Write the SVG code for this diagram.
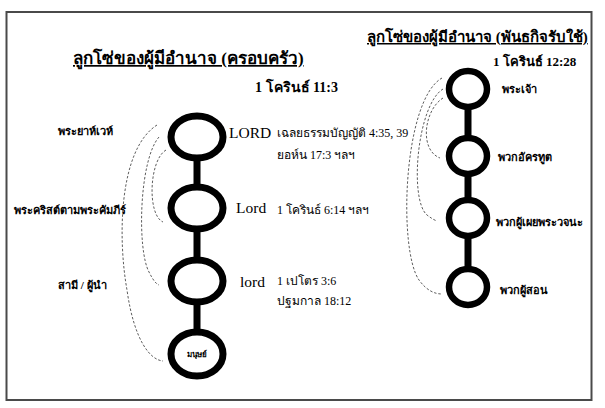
<svg xmlns="http://www.w3.org/2000/svg" width="605" height="408" viewBox="0 0 605 408">
<style>
.ring{fill:#fff;stroke:#000;stroke-width:7}
.ringS{fill:#fff;stroke:#000;stroke-width:6.5}
.link{stroke:#000;stroke-width:7}
.dash{fill:none;stroke:#333;stroke-width:0.8;stroke-dasharray:2.5 1.8}
.t{font-family:"Liberation Serif","Noto Sans",serif;fill:#000}
.b{font-weight:bold}
.title{font-size:17px;font-weight:bold;text-decoration:underline}
.title2{font-size:15px;font-weight:bold;text-decoration:underline}
.ref{font-size:12px}
.lab{font-size:11px;font-weight:bold}
.big{font-size:15.5px}
</style>
<rect x="6.5" y="12" width="585" height="388" fill="#fff" stroke="#4a4a4a" stroke-width="2"/>
<g id="titles">
<text class="t title" x="73" y="64">ลูกโซ่ของผู้มีอำนาจ (ครอบครัว)</text>
<text class="t b" x="255" y="92" font-size="14">1 โครินธ์ 11:3</text>
<text class="t title2" x="367" y="42">ลูกโซ่ของผู้มีอำนาจ (พันธกิจรับใช้)</text>
<text class="t b" x="493" y="66" font-size="13">1 โครินธ์  12:28</text>
</g>
<g id="connectors">
<line class="link" x1="197" y1="158" x2="197" y2="188"/>
<line class="link" x1="197" y1="229" x2="197" y2="260"/>
<line class="link" x1="197" y1="302" x2="197" y2="333"/>
<line class="link" x1="468" y1="108" x2="468" y2="138"/>
<line class="link" x1="468" y1="175" x2="468" y2="200"/>
<line class="link" x1="468" y1="235" x2="468" y2="268"/>
<path class="dash" d="M157,125 C118,150 118,240 127,290 C134,340 150,360 163,361"/>
<path class="dash" d="M159,137 C139,160 137,250 149,272 C153,280 156,284 159,285"/>
<path class="dash" d="M166,150 C149,160 147,215 163,222"/>
<path class="dash" d="M442,78 C403,100 398,250 419,280 C427,291 435,294 442,294"/>
<path class="dash" d="M443,89 C417,105 409,200 427,215 C431,218 434,220 437,221"/>
<path class="dash" d="M443,98 C424,110 419,150 440,158"/>
</g>
<g id="n-lord1"><ellipse class="ring" cx="197" cy="137" rx="26" ry="21"/>
<text class="t big" x="229" y="138">LORD</text>
<text class="t ref" x="277" y="137">เฉลยธรรมบัญญัติ 4:35, 39</text>
<text class="t ref" x="277" y="159">ยอห์น 17:3 ฯลฯ</text>
<text class="t lab" x="58" y="135">พระยาห์เวห์</text></g>
<g id="n-lord2"><ellipse class="ring" cx="197" cy="208" rx="26" ry="21"/>
<text class="t big" x="236" y="213">Lord</text>
<text class="t ref" x="277" y="214">1 โครินธ์ 6:14 ฯลฯ</text>
<text class="t lab" x="14" y="214">พระคริสต์ตามพระคัมภีร์</text></g>
<g id="n-lord3"><ellipse class="ring" cx="197" cy="281" rx="26" ry="21"/>
<text class="t big" x="240" y="287">lord</text>
<text class="t ref" x="277" y="285">1 เปโตร 3:6</text>
<text class="t ref" x="277" y="305">ปฐมกาล 18:12</text>
<text class="t lab" x="58" y="289">สามี / ผู้นำ</text></g>
<g id="n-human"><ellipse class="ring" cx="197" cy="354" rx="26" ry="22"/>
<text class="t b" x="197" y="357" font-size="8" text-anchor="middle">มนุษย์</text></g>
<g id="n-god"><ellipse class="ringS" cx="468" cy="89" rx="19" ry="18"/>
<text class="t lab" x="502" y="93">พระเจ้า</text></g>
<g id="n-apostles"><ellipse class="ringS" cx="468" cy="156" rx="19" ry="18"/>
<text class="t lab" x="498" y="161">พวกอัครทูต</text></g>
<g id="n-prophets"><ellipse class="ringS" cx="468" cy="218" rx="19" ry="18"/>
<text class="t lab" x="496" y="226">พวกผู้เผยพระวจนะ</text></g>
<g id="n-teachers"><ellipse class="ringS" cx="468" cy="287" rx="19" ry="18"/>
<text class="t lab" x="500" y="294">พวกผู้สอน</text></g>
</svg>
